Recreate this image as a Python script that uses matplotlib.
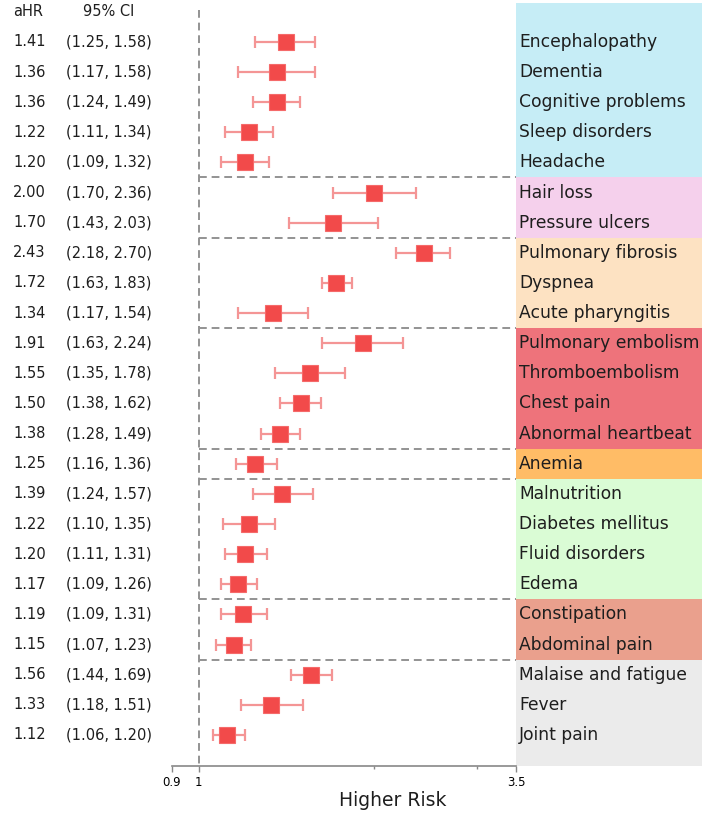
import numpy as np
import matplotlib
matplotlib.use("Agg")
import matplotlib.pyplot as plt
import matplotlib.transforms as mtransforms
from matplotlib.patches import Rectangle

# data
conditions = ["Encephalopathy", "Dementia", "Cognitive problems", "Sleep disorders", "Headache",
              "Hair loss", "Pressure ulcers",
              "Pulmonary fibrosis", "Dyspnea", "Acute pharyngitis",
              "Pulmonary embolism", "Thromboembolism", "Chest pain", "Abnormal heartbeat",
              "Anemia",
              "Malnutrition", "Diabetes mellitus", "Fluid disorders", "Edema",
              "Constipation", "Abdominal pain",
              "Malaise and fatigue", "Fever", "Joint pain"]
ahr = [1.41, 1.36, 1.36, 1.22, 1.20, 2.00, 1.70, 2.43, 1.72, 1.34, 1.91, 1.55, 1.50, 1.38,
       1.25, 1.39, 1.22, 1.20, 1.17, 1.19, 1.15, 1.56, 1.33, 1.12]
ci_low = [1.25, 1.17, 1.24, 1.11, 1.09, 1.70, 1.43, 2.18, 1.63, 1.17, 1.63, 1.35, 1.38, 1.28,
          1.16, 1.24, 1.10, 1.11, 1.09, 1.09, 1.07, 1.44, 1.18, 1.06]
ci_high = [1.58, 1.58, 1.49, 1.34, 1.32, 2.36, 2.03, 2.70, 1.83, 1.54, 2.24, 1.78, 1.62, 1.49,
           1.36, 1.57, 1.35, 1.31, 1.26, 1.31, 1.23, 1.69, 1.51, 1.20]
group_sizes = [5, 2, 3, 4, 1, 4, 2, 3]
group_colors = ["#c6edf6", "#f5d0ec", "#fde2c2", "#ee737b", "#ffbc66", "#dafcd5", "#eaa08d", "#ebebeb"]

x_min, x_max, x_box = 0.9, 7.29, 3.5
y_top, y_bot = -1.29, 24.03

fig = plt.figure(figsize=(7.02, 8.17), dpi=100)
ax = fig.add_axes([172 / 702, 51 / 817, 530 / 702, 763 / 817])
ax.set_xscale("log")
ax.set_xlim(x_min, x_max)
ax.set_ylim(y_bot, y_top)

rows = np.arange(len(conditions))

# coloured group boxes with labels
start = 0
for size, color in zip(group_sizes, group_colors):
    lo = start - 0.5 if start > 0 else y_top
    hi = start + size - 0.5 if start + size < len(conditions) else y_bot
    ax.add_patch(Rectangle((x_box, lo), x_max - x_box, hi - lo, facecolor=color,
                           edgecolor="none", zorder=0))
    if start > 0:
        ax.plot([1, x_box], [start - 0.5, start - 0.5], color="#939393", lw=1.4,
                ls=(0, (4, 2.5)), zorder=1)
    start += size

for y, name in zip(rows, conditions):
    ax.text(x_box * 1.012, y, name, va="center", ha="left", fontsize=12.3, color="#1e1e1e")

# reference line at 1
ax.plot([1, 1], [-1.05, y_bot], color="#939393", lw=1.4, ls=(0, (4, 2.5)), zorder=1, clip_on=False)

# estimates with confidence intervals
err = [np.array(ahr) - np.array(ci_low), np.array(ci_high) - np.array(ahr)]
ax.errorbar(ahr, rows, xerr=err, fmt="none", ecolor="#f49595", elinewidth=1.6,
            capsize=4.5, capthick=1.6, zorder=2)
ax.plot(ahr, rows, ls="none", marker="s", markersize=11, color="#f24a4a",
        markeredgecolor="#f56a6a", markeredgewidth=0.8, zorder=3)

# left text columns
trans = mtransforms.blended_transform_factory(fig.transFigure, ax.transData)
ax.text(13 / 702, -1.0, "aHR", transform=trans, fontsize=10.5, va="center", ha="left", color="#1e1e1e")
ax.text(109 / 702, -1.0, "95% CI", transform=trans, fontsize=10.5, va="center", ha="center", color="#1e1e1e")
for y, h, lo, hi in zip(rows, ahr, ci_low, ci_high):
    ax.text(13 / 702, y, f"{h:.2f}", transform=trans, fontsize=10.5, va="center", ha="left", color="#1e1e1e")
    ax.text(66 / 702, y, f"({lo:.2f}, {hi:.2f})", transform=trans, fontsize=10.5, va="center",
            ha="left", color="#1e1e1e")

# axis styling
for s in ["top", "right", "left"]:
    ax.spines[s].set_visible(False)
ax.spines["bottom"].set_bounds(0.9, 3.5)
ax.spines["bottom"].set_color("#888888")
ax.spines["bottom"].set_linewidth(1.2)
ax.set_yticks([])
ax.set_xticks([0.9, 1, 3.5])
ax.set_xticklabels(["0.9", "1", "3.5"])
ax.set_xticks([2, 3], minor=True)
ax.set_xticklabels(["", ""], minor=True)
ax.tick_params(axis="x", which="major", length=4, width=1, color="#888888", labelsize=8.5, pad=3)
ax.tick_params(axis="x", which="minor", length=2, width=1, color="#888888")

fig.text(393 / 702, 17 / 817, "Higher Risk", fontsize=13.5, ha="center", va="center", color="#1e1e1e")

plt.savefig("out.png", dpi=100)
